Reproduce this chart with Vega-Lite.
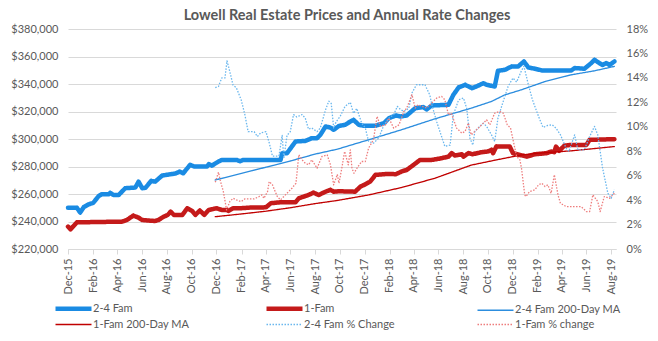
{
"$schema":"https://vega.github.io/schema/vega-lite/v6.json",
"width":548,"height":220,
"autosize":{"type":"none"},
"padding":{"left":68,"top":29,"right":42,"bottom":92},
"background":"white",
"title":{"text":"Lowell Real Estate Prices and Annual Rate Changes","font":"Lato","fontSize":14.5,"fontWeight":"bold","color":"#595959","anchor":"middle","frame":"group","offset":0,"dx":5},
"config":{"view":{"stroke":null},"font":"Lato",
 "axis":{"labelFont":"Lato","labelFontSize":11,"labelColor":"#595959","gridColor":"#d9d9d9","gridWidth":1,"domain":false,"ticks":false,"tickSize":0,"title":null},
 "legend":{"labelFont":"Lato","labelFontSize":11,"labelColor":"#595959"}},
"datasets":{
"price":[
{"d":"2015-12-01","s":"2-4 Fam","v":250000},{"d":"2015-12-23","s":"2-4 Fam","v":250000},{"d":"2015-12-31","s":"2-4 Fam","v":246500},{"d":"2016-01-09","s":"2-4 Fam","v":250500},{"d":"2016-01-21","s":"2-4 Fam","v":252500},{"d":"2016-02-01","s":"2-4 Fam","v":253500},{"d":"2016-02-15","s":"2-4 Fam","v":258600},{"d":"2016-02-22","s":"2-4 Fam","v":259800},{"d":"2016-03-10","s":"2-4 Fam","v":259800},{"d":"2016-03-14","s":"2-4 Fam","v":260800},{"d":"2016-03-22","s":"2-4 Fam","v":259300},{"d":"2016-04-04","s":"2-4 Fam","v":259300},{"d":"2016-04-20","s":"2-4 Fam","v":264200},{"d":"2016-05-15","s":"2-4 Fam","v":264700},{"d":"2016-05-23","s":"2-4 Fam","v":269000},{"d":"2016-06-01","s":"2-4 Fam","v":264200},{"d":"2016-06-09","s":"2-4 Fam","v":264500},{"d":"2016-06-23","s":"2-4 Fam","v":269500},{"d":"2016-07-03","s":"2-4 Fam","v":269000},{"d":"2016-07-20","s":"2-4 Fam","v":273400},{"d":"2016-08-10","s":"2-4 Fam","v":274400},{"d":"2016-08-22","s":"2-4 Fam","v":274900},{"d":"2016-09-01","s":"2-4 Fam","v":276300},{"d":"2016-09-10","s":"2-4 Fam","v":275100},{"d":"2016-09-27","s":"2-4 Fam","v":281200},{"d":"2016-10-07","s":"2-4 Fam","v":280000},{"d":"2016-11-08","s":"2-4 Fam","v":280000},{"d":"2016-11-12","s":"2-4 Fam","v":281700},{"d":"2016-11-20","s":"2-4 Fam","v":280700},{"d":"2016-12-06","s":"2-4 Fam","v":283600},{"d":"2016-12-14","s":"2-4 Fam","v":284800},{"d":"2017-01-20","s":"2-4 Fam","v":284800},{"d":"2017-01-28","s":"2-4 Fam","v":283800},{"d":"2017-02-05","s":"2-4 Fam","v":284800},{"d":"2017-05-08","s":"2-4 Fam","v":284800},{"d":"2017-05-12","s":"2-4 Fam","v":289700},{"d":"2017-05-24","s":"2-4 Fam","v":289700},{"d":"2017-06-14","s":"2-4 Fam","v":298200},{"d":"2017-07-08","s":"2-4 Fam","v":298600},{"d":"2017-07-24","s":"2-4 Fam","v":300600},{"d":"2017-08-06","s":"2-4 Fam","v":300600},{"d":"2017-08-14","s":"2-4 Fam","v":303000},{"d":"2017-08-27","s":"2-4 Fam","v":309100},{"d":"2017-09-08","s":"2-4 Fam","v":308300},{"d":"2017-09-16","s":"2-4 Fam","v":306700},{"d":"2017-09-29","s":"2-4 Fam","v":309500},{"d":"2017-10-14","s":"2-4 Fam","v":310300},{"d":"2017-10-27","s":"2-4 Fam","v":312700},{"d":"2017-11-04","s":"2-4 Fam","v":313900},{"d":"2017-11-17","s":"2-4 Fam","v":310300},{"d":"2017-11-30","s":"2-4 Fam","v":309600},{"d":"2017-12-28","s":"2-4 Fam","v":309600},{"d":"2018-01-18","s":"2-4 Fam","v":311500},{"d":"2018-01-30","s":"2-4 Fam","v":315100},{"d":"2018-02-16","s":"2-4 Fam","v":317100},{"d":"2018-02-28","s":"2-4 Fam","v":316400},{"d":"2018-03-15","s":"2-4 Fam","v":317100},{"d":"2018-04-05","s":"2-4 Fam","v":322400},{"d":"2018-04-25","s":"2-4 Fam","v":323200},{"d":"2018-05-03","s":"2-4 Fam","v":321500},{"d":"2018-05-16","s":"2-4 Fam","v":324400},{"d":"2018-06-26","s":"2-4 Fam","v":324900},{"d":"2018-07-08","s":"2-4 Fam","v":332100},{"d":"2018-07-21","s":"2-4 Fam","v":337500},{"d":"2018-08-06","s":"2-4 Fam","v":339400},{"d":"2018-08-23","s":"2-4 Fam","v":337000},{"d":"2018-09-03","s":"2-4 Fam","v":338200},{"d":"2018-09-20","s":"2-4 Fam","v":340600},{"d":"2018-09-28","s":"2-4 Fam","v":339400},{"d":"2018-10-18","s":"2-4 Fam","v":338200},{"d":"2018-10-26","s":"2-4 Fam","v":349600},{"d":"2018-11-12","s":"2-4 Fam","v":350300},{"d":"2018-11-29","s":"2-4 Fam","v":352800},{"d":"2018-12-15","s":"2-4 Fam","v":352800},{"d":"2018-12-29","s":"2-4 Fam","v":356400},{"d":"2019-01-09","s":"2-4 Fam","v":352000},{"d":"2019-01-25","s":"2-4 Fam","v":351100},{"d":"2019-02-11","s":"2-4 Fam","v":349900},{"d":"2019-04-25","s":"2-4 Fam","v":349900},{"d":"2019-05-03","s":"2-4 Fam","v":351600},{"d":"2019-05-27","s":"2-4 Fam","v":351100},{"d":"2019-06-13","s":"2-4 Fam","v":355200},{"d":"2019-06-21","s":"2-4 Fam","v":357600},{"d":"2019-07-03","s":"2-4 Fam","v":355200},{"d":"2019-07-11","s":"2-4 Fam","v":353800},{"d":"2019-07-20","s":"2-4 Fam","v":355200},{"d":"2019-07-28","s":"2-4 Fam","v":353800},{"d":"2019-08-09","s":"2-4 Fam","v":356400},
{"d":"2015-12-01","s":"1-Fam","v":236300},{"d":"2015-12-07","s":"1-Fam","v":234300},{"d":"2015-12-23","s":"1-Fam","v":239400},{"d":"2016-04-12","s":"1-Fam","v":239900},{"d":"2016-04-24","s":"1-Fam","v":241100},{"d":"2016-05-10","s":"1-Fam","v":244300},{"d":"2016-05-23","s":"1-Fam","v":242800},{"d":"2016-06-01","s":"1-Fam","v":241100},{"d":"2016-06-21","s":"1-Fam","v":240600},{"d":"2016-07-03","s":"1-Fam","v":240400},{"d":"2016-07-11","s":"1-Fam","v":241100},{"d":"2016-07-24","s":"1-Fam","v":243500},{"d":"2016-08-03","s":"1-Fam","v":244800},{"d":"2016-08-10","s":"1-Fam","v":247200},{"d":"2016-08-18","s":"1-Fam","v":244800},{"d":"2016-09-08","s":"1-Fam","v":244800},{"d":"2016-09-20","s":"1-Fam","v":249600},{"d":"2016-10-02","s":"1-Fam","v":247700},{"d":"2016-10-10","s":"1-Fam","v":244800},{"d":"2016-10-21","s":"1-Fam","v":248000},{"d":"2016-11-01","s":"1-Fam","v":244800},{"d":"2016-11-12","s":"1-Fam","v":248400},{"d":"2016-12-01","s":"1-Fam","v":249600},{"d":"2016-12-14","s":"1-Fam","v":248400},{"d":"2016-12-26","s":"1-Fam","v":248400},{"d":"2016-12-30","s":"1-Fam","v":247700},{"d":"2017-01-11","s":"1-Fam","v":249600},{"d":"2017-01-28","s":"1-Fam","v":249600},{"d":"2017-02-21","s":"1-Fam","v":250100},{"d":"2017-04-02","s":"1-Fam","v":250300},{"d":"2017-04-14","s":"1-Fam","v":253300},{"d":"2017-05-08","s":"1-Fam","v":254000},{"d":"2017-06-14","s":"1-Fam","v":254000},{"d":"2017-06-22","s":"1-Fam","v":256900},{"d":"2017-07-16","s":"1-Fam","v":259300},{"d":"2017-07-28","s":"1-Fam","v":261000},{"d":"2017-08-10","s":"1-Fam","v":259300},{"d":"2017-08-27","s":"1-Fam","v":261700},{"d":"2017-09-08","s":"1-Fam","v":263000},{"d":"2017-09-16","s":"1-Fam","v":261700},{"d":"2017-09-29","s":"1-Fam","v":262000},{"d":"2017-11-08","s":"1-Fam","v":261700},{"d":"2017-11-21","s":"1-Fam","v":265400},{"d":"2017-11-30","s":"1-Fam","v":266600},{"d":"2017-12-15","s":"1-Fam","v":269000},{"d":"2017-12-28","s":"1-Fam","v":273900},{"d":"2018-01-26","s":"1-Fam","v":274600},{"d":"2018-02-16","s":"1-Fam","v":274400},{"d":"2018-03-02","s":"1-Fam","v":276300},{"d":"2018-03-15","s":"1-Fam","v":277500},{"d":"2018-04-01","s":"1-Fam","v":281200},{"d":"2018-04-17","s":"1-Fam","v":284800},{"d":"2018-05-16","s":"1-Fam","v":284800},{"d":"2018-06-09","s":"1-Fam","v":286000},{"d":"2018-06-26","s":"1-Fam","v":287200},{"d":"2018-07-04","s":"1-Fam","v":289700},{"d":"2018-07-12","s":"1-Fam","v":288000},{"d":"2018-07-29","s":"1-Fam","v":288900},{"d":"2018-08-02","s":"1-Fam","v":287200},{"d":"2018-08-14","s":"1-Fam","v":289700},{"d":"2018-08-24","s":"1-Fam","v":288900},{"d":"2018-09-16","s":"1-Fam","v":290400},{"d":"2018-10-01","s":"1-Fam","v":290900},{"d":"2018-10-10","s":"1-Fam","v":292100},{"d":"2018-10-14","s":"1-Fam","v":289700},{"d":"2018-10-22","s":"1-Fam","v":294500},{"d":"2018-11-24","s":"1-Fam","v":294500},{"d":"2018-12-02","s":"1-Fam","v":289700},{"d":"2018-12-19","s":"1-Fam","v":288400},{"d":"2019-01-05","s":"1-Fam","v":287200},{"d":"2019-01-25","s":"1-Fam","v":288900},{"d":"2019-02-23","s":"1-Fam","v":289700},{"d":"2019-03-06","s":"1-Fam","v":290900},{"d":"2019-03-14","s":"1-Fam","v":290400},{"d":"2019-03-18","s":"1-Fam","v":294500},{"d":"2019-03-26","s":"1-Fam","v":291400},{"d":"2019-04-08","s":"1-Fam","v":295200},{"d":"2019-04-25","s":"1-Fam","v":295700},{"d":"2019-06-01","s":"1-Fam","v":295700},{"d":"2019-06-09","s":"1-Fam","v":299400},{"d":"2019-08-09","s":"1-Fam","v":299900},
{"d":"2016-11-28","s":"2-4 Fam 200-Day MA","v":270200},{"d":"2017-02-01","s":"2-4 Fam 200-Day MA","v":275000},{"d":"2017-04-02","s":"2-4 Fam 200-Day MA","v":279500},{"d":"2017-06-01","s":"2-4 Fam 200-Day MA","v":284000},{"d":"2017-08-01","s":"2-4 Fam 200-Day MA","v":289000},{"d":"2017-09-25","s":"2-4 Fam 200-Day MA","v":292600},{"d":"2017-12-11","s":"2-4 Fam 200-Day MA","v":299400},{"d":"2018-03-02","s":"2-4 Fam 200-Day MA","v":306700},{"d":"2018-05-24","s":"2-4 Fam 200-Day MA","v":314700},{"d":"2018-08-21","s":"2-4 Fam 200-Day MA","v":322400},{"d":"2018-10-10","s":"2-4 Fam 200-Day MA","v":327300},{"d":"2018-11-12","s":"2-4 Fam 200-Day MA","v":332100},{"d":"2018-12-23","s":"2-4 Fam 200-Day MA","v":335800},{"d":"2019-02-19","s":"2-4 Fam 200-Day MA","v":341800},{"d":"2019-04-25","s":"2-4 Fam 200-Day MA","v":346700},{"d":"2019-06-21","s":"2-4 Fam 200-Day MA","v":349600},{"d":"2019-08-09","s":"2-4 Fam 200-Day MA","v":352800},
{"d":"2016-11-28","s":"1-Fam 200-Day MA","v":243500},{"d":"2017-02-01","s":"1-Fam 200-Day MA","v":245500},{"d":"2017-04-02","s":"1-Fam 200-Day MA","v":247500},{"d":"2017-06-01","s":"1-Fam 200-Day MA","v":250000},{"d":"2017-08-01","s":"1-Fam 200-Day MA","v":253000},{"d":"2017-09-25","s":"1-Fam 200-Day MA","v":255300},{"d":"2017-12-11","s":"1-Fam 200-Day MA","v":259300},{"d":"2018-03-02","s":"1-Fam 200-Day MA","v":264700},{"d":"2018-05-24","s":"1-Fam 200-Day MA","v":271500},{"d":"2018-08-21","s":"1-Fam 200-Day MA","v":281000},{"d":"2018-10-22","s":"1-Fam 200-Day MA","v":284800},{"d":"2018-12-23","s":"1-Fam 200-Day MA","v":288400},{"d":"2019-02-03","s":"1-Fam 200-Day MA","v":289700},{"d":"2019-04-25","s":"1-Fam 200-Day MA","v":291400},{"d":"2019-08-09","s":"1-Fam 200-Day MA","v":294500}
],
"pct":[
{"d":"2016-11-28","s":"2-4 Fam % Change","v":13.2},{"d":"2016-12-06","s":"2-4 Fam % Change","v":13.3},{"d":"2016-12-14","s":"2-4 Fam % Change","v":14.0},{"d":"2016-12-22","s":"2-4 Fam % Change","v":14.0},{"d":"2016-12-27","s":"2-4 Fam % Change","v":15.4},{"d":"2017-01-03","s":"2-4 Fam % Change","v":14.5},{"d":"2017-01-11","s":"2-4 Fam % Change","v":13.4},{"d":"2017-01-19","s":"2-4 Fam % Change","v":13.2},{"d":"2017-01-31","s":"2-4 Fam % Change","v":12.2},{"d":"2017-02-09","s":"2-4 Fam % Change","v":11.0},{"d":"2017-02-17","s":"2-4 Fam % Change","v":9.6},{"d":"2017-03-04","s":"2-4 Fam % Change","v":9.6},{"d":"2017-03-12","s":"2-4 Fam % Change","v":9.2},{"d":"2017-03-20","s":"2-4 Fam % Change","v":9.5},{"d":"2017-04-02","s":"2-4 Fam % Change","v":9.6},{"d":"2017-04-10","s":"2-4 Fam % Change","v":8.7},{"d":"2017-04-18","s":"2-4 Fam % Change","v":7.6},{"d":"2017-05-04","s":"2-4 Fam % Change","v":7.6},{"d":"2017-05-12","s":"2-4 Fam % Change","v":9.3},{"d":"2017-05-16","s":"2-4 Fam % Change","v":7.4},{"d":"2017-05-24","s":"2-4 Fam % Change","v":9.3},{"d":"2017-06-01","s":"2-4 Fam % Change","v":9.6},{"d":"2017-06-09","s":"2-4 Fam % Change","v":11.0},{"d":"2017-06-17","s":"2-4 Fam % Change","v":10.8},{"d":"2017-06-30","s":"2-4 Fam % Change","v":11.0},{"d":"2017-07-08","s":"2-4 Fam % Change","v":10.7},{"d":"2017-07-16","s":"2-4 Fam % Change","v":9.8},{"d":"2017-07-24","s":"2-4 Fam % Change","v":9.9},{"d":"2017-08-06","s":"2-4 Fam % Change","v":9.6},{"d":"2017-08-14","s":"2-4 Fam % Change","v":9.9},{"d":"2017-08-27","s":"2-4 Fam % Change","v":11.4},{"d":"2017-09-04","s":"2-4 Fam % Change","v":12.1},{"d":"2017-09-10","s":"2-4 Fam % Change","v":11.9},{"d":"2017-09-16","s":"2-4 Fam % Change","v":9.9},{"d":"2017-09-22","s":"2-4 Fam % Change","v":10.4},{"d":"2017-10-02","s":"2-4 Fam % Change","v":10.85},{"d":"2017-10-14","s":"2-4 Fam % Change","v":11.67},{"d":"2017-10-27","s":"2-4 Fam % Change","v":12.0},{"d":"2017-11-04","s":"2-4 Fam % Change","v":11.1},{"d":"2017-11-12","s":"2-4 Fam % Change","v":11.5},{"d":"2017-11-24","s":"2-4 Fam % Change","v":10.3},{"d":"2017-12-03","s":"2-4 Fam % Change","v":9.9},{"d":"2017-12-11","s":"2-4 Fam % Change","v":8.8},{"d":"2017-12-23","s":"2-4 Fam % Change","v":8.66},{"d":"2018-01-05","s":"2-4 Fam % Change","v":9.07},{"d":"2018-01-18","s":"2-4 Fam % Change","v":10.16},{"d":"2018-01-30","s":"2-4 Fam % Change","v":10.7},{"d":"2018-02-11","s":"2-4 Fam % Change","v":11.0},{"d":"2018-02-20","s":"2-4 Fam % Change","v":11.67},{"d":"2018-02-28","s":"2-4 Fam % Change","v":11.4},{"d":"2018-03-08","s":"2-4 Fam % Change","v":11.26},{"d":"2018-03-20","s":"2-4 Fam % Change","v":11.5},{"d":"2018-03-28","s":"2-4 Fam % Change","v":12.76},{"d":"2018-04-08","s":"2-4 Fam % Change","v":13.44},{"d":"2018-04-29","s":"2-4 Fam % Change","v":13.44},{"d":"2018-05-11","s":"2-4 Fam % Change","v":12.6},{"d":"2018-05-16","s":"2-4 Fam % Change","v":11.8},{"d":"2018-05-28","s":"2-4 Fam % Change","v":10.4},{"d":"2018-06-09","s":"2-4 Fam % Change","v":9.2},{"d":"2018-06-17","s":"2-4 Fam % Change","v":8.4},{"d":"2018-06-30","s":"2-4 Fam % Change","v":8.5},{"d":"2018-07-08","s":"2-4 Fam % Change","v":10.98},{"d":"2018-07-21","s":"2-4 Fam % Change","v":12.2},{"d":"2018-08-02","s":"2-4 Fam % Change","v":12.35},{"d":"2018-08-10","s":"2-4 Fam % Change","v":11.5},{"d":"2018-08-18","s":"2-4 Fam % Change","v":9.07},{"d":"2018-08-25","s":"2-4 Fam % Change","v":8.5},{"d":"2018-08-30","s":"2-4 Fam % Change","v":9.62},{"d":"2018-09-07","s":"2-4 Fam % Change","v":9.89},{"d":"2018-09-20","s":"2-4 Fam % Change","v":10.3},{"d":"2018-09-28","s":"2-4 Fam % Change","v":10.03},{"d":"2018-10-10","s":"2-4 Fam % Change","v":9.34},{"d":"2018-10-18","s":"2-4 Fam % Change","v":8.8},{"d":"2018-10-26","s":"2-4 Fam % Change","v":10.71},{"d":"2018-11-08","s":"2-4 Fam % Change","v":12.08},{"d":"2018-11-20","s":"2-4 Fam % Change","v":13.3},{"d":"2018-12-02","s":"2-4 Fam % Change","v":13.99},{"d":"2018-12-11","s":"2-4 Fam % Change","v":13.66},{"d":"2018-12-23","s":"2-4 Fam % Change","v":14.59},{"d":"2018-12-29","s":"2-4 Fam % Change","v":14.95},{"d":"2019-01-09","s":"2-4 Fam % Change","v":13.44},{"d":"2019-01-19","s":"2-4 Fam % Change","v":12.21},{"d":"2019-02-03","s":"2-4 Fam % Change","v":10.85},{"d":"2019-02-14","s":"2-4 Fam % Change","v":9.95},{"d":"2019-02-26","s":"2-4 Fam % Change","v":10.11},{"d":"2019-03-09","s":"2-4 Fam % Change","v":10.16},{"d":"2019-03-18","s":"2-4 Fam % Change","v":9.89},{"d":"2019-03-29","s":"2-4 Fam % Change","v":9.34},{"d":"2019-04-12","s":"2-4 Fam % Change","v":8.25},{"d":"2019-04-19","s":"2-4 Fam % Change","v":7.98},{"d":"2019-05-03","s":"2-4 Fam % Change","v":9.34},{"d":"2019-05-11","s":"2-4 Fam % Change","v":8.11},{"d":"2019-05-27","s":"2-4 Fam % Change","v":8.11},{"d":"2019-06-09","s":"2-4 Fam % Change","v":9.2},{"d":"2019-06-21","s":"2-4 Fam % Change","v":10.03},{"d":"2019-06-29","s":"2-4 Fam % Change","v":9.34},{"d":"2019-07-11","s":"2-4 Fam % Change","v":6.61},{"d":"2019-07-24","s":"2-4 Fam % Change","v":4.56},{"d":"2019-08-01","s":"2-4 Fam % Change","v":4.15},{"d":"2019-08-09","s":"2-4 Fam % Change","v":4.84},
{"d":"2016-11-28","s":"1-Fam % change","v":5.46},{"d":"2016-12-06","s":"1-Fam % change","v":6.28},{"d":"2016-12-11","s":"1-Fam % change","v":5.52},{"d":"2016-12-18","s":"1-Fam % change","v":4.7},{"d":"2016-12-26","s":"1-Fam % change","v":3.2},{"d":"2017-01-03","s":"1-Fam % change","v":3.88},{"d":"2017-01-11","s":"1-Fam % change","v":4.15},{"d":"2017-01-19","s":"1-Fam % change","v":4.02},{"d":"2017-01-31","s":"1-Fam % change","v":3.88},{"d":"2017-02-09","s":"1-Fam % change","v":4.1},{"d":"2017-03-04","s":"1-Fam % change","v":4.1},{"d":"2017-03-16","s":"1-Fam % change","v":4.29},{"d":"2017-03-23","s":"1-Fam % change","v":4.43},{"d":"2017-03-28","s":"1-Fam % change","v":4.15},{"d":"2017-04-06","s":"1-Fam % change","v":4.7},{"d":"2017-04-10","s":"1-Fam % change","v":5.52},{"d":"2017-04-18","s":"1-Fam % change","v":5.25},{"d":"2017-04-30","s":"1-Fam % change","v":4.29},{"d":"2017-05-08","s":"1-Fam % change","v":4.02},{"d":"2017-05-20","s":"1-Fam % change","v":4.43},{"d":"2017-06-05","s":"1-Fam % change","v":4.97},{"d":"2017-06-15","s":"1-Fam % change","v":5.38},{"d":"2017-06-22","s":"1-Fam % change","v":7.7},{"d":"2017-06-30","s":"1-Fam % change","v":7.3},{"d":"2017-07-08","s":"1-Fam % change","v":7.02},{"d":"2017-07-16","s":"1-Fam % change","v":6.89},{"d":"2017-07-24","s":"1-Fam % change","v":7.3},{"d":"2017-08-06","s":"1-Fam % change","v":6.61},{"d":"2017-08-18","s":"1-Fam % change","v":7.57},{"d":"2017-08-31","s":"1-Fam % change","v":7.7},{"d":"2017-09-08","s":"1-Fam % change","v":6.89},{"d":"2017-09-16","s":"1-Fam % change","v":5.25},{"d":"2017-09-25","s":"1-Fam % change","v":6.1},{"d":"2017-09-29","s":"1-Fam % change","v":5.38},{"d":"2017-10-06","s":"1-Fam % change","v":6.61},{"d":"2017-10-13","s":"1-Fam % change","v":7.98},{"d":"2017-10-22","s":"1-Fam % change","v":6.89},{"d":"2017-10-27","s":"1-Fam % change","v":8.11},{"d":"2017-10-31","s":"1-Fam % change","v":6.61},{"d":"2017-11-05","s":"1-Fam % change","v":6.2},{"d":"2017-11-15","s":"1-Fam % change","v":6.75},{"d":"2017-11-24","s":"1-Fam % change","v":7.16},{"d":"2017-12-03","s":"1-Fam % change","v":7.16},{"d":"2017-12-11","s":"1-Fam % change","v":8.25},{"d":"2017-12-23","s":"1-Fam % change","v":8.93},{"d":"2018-01-01","s":"1-Fam % change","v":10.85},{"d":"2018-01-09","s":"1-Fam % change","v":10.03},{"d":"2018-01-22","s":"1-Fam % change","v":10.16},{"d":"2018-01-30","s":"1-Fam % change","v":10.71},{"d":"2018-02-11","s":"1-Fam % change","v":9.89},{"d":"2018-02-24","s":"1-Fam % change","v":10.16},{"d":"2018-03-08","s":"1-Fam % change","v":11.26},{"d":"2018-03-15","s":"1-Fam % change","v":11.53},{"d":"2018-03-28","s":"1-Fam % change","v":12.62},{"d":"2018-04-05","s":"1-Fam % change","v":11.53},{"d":"2018-04-12","s":"1-Fam % change","v":11.8},{"d":"2018-05-03","s":"1-Fam % change","v":11.53},{"d":"2018-05-11","s":"1-Fam % change","v":11.8},{"d":"2018-05-28","s":"1-Fam % change","v":12.35},{"d":"2018-06-09","s":"1-Fam % change","v":12.49},{"d":"2018-06-17","s":"1-Fam % change","v":12.21},{"d":"2018-06-26","s":"1-Fam % change","v":10.98},{"d":"2018-07-03","s":"1-Fam % change","v":11.12},{"d":"2018-07-16","s":"1-Fam % change","v":9.89},{"d":"2018-07-29","s":"1-Fam % change","v":9.48},{"d":"2018-08-06","s":"1-Fam % change","v":9.62},{"d":"2018-08-14","s":"1-Fam % change","v":10.3},{"d":"2018-08-21","s":"1-Fam % change","v":9.34},{"d":"2018-09-03","s":"1-Fam % change","v":9.75},{"d":"2018-09-20","s":"1-Fam % change","v":10.3},{"d":"2018-09-28","s":"1-Fam % change","v":10.57},{"d":"2018-10-06","s":"1-Fam % change","v":10.16},{"d":"2018-10-18","s":"1-Fam % change","v":11.12},{"d":"2018-10-30","s":"1-Fam % change","v":11.26},{"d":"2018-11-08","s":"1-Fam % change","v":11.12},{"d":"2018-11-18","s":"1-Fam % change","v":10.16},{"d":"2018-11-26","s":"1-Fam % change","v":9.89},{"d":"2018-12-11","s":"1-Fam % change","v":7.57},{"d":"2018-12-19","s":"1-Fam % change","v":7.3},{"d":"2018-12-23","s":"1-Fam % change","v":6.61},{"d":"2018-12-31","s":"1-Fam % change","v":4.43},{"d":"2019-01-03","s":"1-Fam % change","v":4.29},{"d":"2019-01-12","s":"1-Fam % change","v":4.7},{"d":"2019-01-25","s":"1-Fam % change","v":4.84},{"d":"2019-02-03","s":"1-Fam % change","v":5.25},{"d":"2019-02-11","s":"1-Fam % change","v":5.38},{"d":"2019-02-19","s":"1-Fam % change","v":5.11},{"d":"2019-02-26","s":"1-Fam % change","v":5.25},{"d":"2019-03-06","s":"1-Fam % change","v":4.56},{"d":"2019-03-14","s":"1-Fam % change","v":6.07},{"d":"2019-03-23","s":"1-Fam % change","v":4.43},{"d":"2019-03-29","s":"1-Fam % change","v":3.74},{"d":"2019-04-12","s":"1-Fam % change","v":3.47},{"d":"2019-05-19","s":"1-Fam % change","v":3.47},{"d":"2019-06-01","s":"1-Fam % change","v":3.06},{"d":"2019-06-09","s":"1-Fam % change","v":3.06},{"d":"2019-06-17","s":"1-Fam % change","v":4.43},{"d":"2019-06-29","s":"1-Fam % change","v":3.88},{"d":"2019-07-05","s":"1-Fam % change","v":3.06},{"d":"2019-07-15","s":"1-Fam % change","v":4.29},{"d":"2019-07-28","s":"1-Fam % change","v":4.15},{"d":"2019-08-09","s":"1-Fam % change","v":4.56}
]},
"encoding":{
 "x":{"field":"d","type":"temporal",
  "scale":{"type":"utc","domain":[{"year":2015,"month":12,"date":1,"utc":true},{"year":2019,"month":8,"date":13,"utc":true}]},
  "axis":{"labelExpr":"utcFormat(datum.value, '%b-%y')","labelAngle":-90,"grid":false,"domain":true,"domainColor":"#d9d9d9","ticks":true,"tickSize":5,"tickColor":"#d9d9d9","labelPadding":4,
   "values":[{"year":2015,"month":12,"date":1,"utc":true},{"year":2016,"month":2,"date":1,"utc":true},{"year":2016,"month":4,"date":1,"utc":true},{"year":2016,"month":6,"date":1,"utc":true},{"year":2016,"month":8,"date":1,"utc":true},{"year":2016,"month":10,"date":1,"utc":true},{"year":2016,"month":12,"date":1,"utc":true},{"year":2017,"month":2,"date":1,"utc":true},{"year":2017,"month":4,"date":1,"utc":true},{"year":2017,"month":6,"date":1,"utc":true},{"year":2017,"month":8,"date":1,"utc":true},{"year":2017,"month":10,"date":1,"utc":true},{"year":2017,"month":12,"date":1,"utc":true},{"year":2018,"month":2,"date":1,"utc":true},{"year":2018,"month":4,"date":1,"utc":true},{"year":2018,"month":6,"date":1,"utc":true},{"year":2018,"month":8,"date":1,"utc":true},{"year":2018,"month":10,"date":1,"utc":true},{"year":2018,"month":12,"date":1,"utc":true},{"year":2019,"month":2,"date":1,"utc":true},{"year":2019,"month":4,"date":1,"utc":true},{"year":2019,"month":6,"date":1,"utc":true},{"year":2019,"month":8,"date":1,"utc":true}]}},
 "color":{"field":"s","type":"nominal",
  "scale":{"domain":["2-4 Fam","1-Fam","2-4 Fam 200-Day MA","1-Fam 200-Day MA","2-4 Fam % Change","1-Fam % change"],"range":["#1A8BE3","#C41A1A","#2C8DDE","#C00000","#6AB7EE","#EE7D7D"]},
  "legend":{"title":null,"orient":"none","legendX":-1,"legendY":273,"columns":3,"direction":"horizontal","gridAlign":"all","columnPadding":58,"rowPadding":0,"symbolType":"M-4.5,0H4.5","symbolSize":64,"labelOffset":13}},
 "strokeWidth":{"field":"s","type":"nominal",
  "scale":{"type":"ordinal","domain":["2-4 Fam","1-Fam","2-4 Fam 200-Day MA","1-Fam 200-Day MA","2-4 Fam % Change","1-Fam % change"],"range":[4.5,4.5,1.3,1.3,1.3,1.3]},
  "legend":{"title":null,"orient":"none","legendX":-1,"legendY":273,"columns":3,"direction":"horizontal","gridAlign":"all","columnPadding":58,"rowPadding":0,"symbolType":"M-4.5,0H4.5","symbolSize":64,"labelOffset":13}},
 "strokeDash":{"field":"s","type":"nominal",
  "scale":{"type":"ordinal","domain":["2-4 Fam","1-Fam","2-4 Fam 200-Day MA","1-Fam 200-Day MA","2-4 Fam % Change","1-Fam % change"],"range":[[1,0],[1,0],[1,0],[1,0],[1.5,1.5],[1.5,1.5]]},
  "legend":{"title":null,"orient":"none","legendX":-1,"legendY":273,"columns":3,"direction":"horizontal","gridAlign":"all","columnPadding":58,"rowPadding":0,"symbolType":"M-4.5,0H4.5","symbolSize":64,"labelOffset":13}}
},
"layer":[
 {"data":{"name":"price"},"mark":{"type":"line","strokeCap":"round","strokeJoin":"round"},
  "encoding":{"y":{"field":"v","type":"quantitative","scale":{"domain":[220000,380000],"nice":false,"zero":false},
   "axis":{"orient":"left","values":[220000,240000,260000,280000,300000,320000,340000,360000,380000],"format":"$,.0f","grid":true,"labelPadding":10}}}},
 {"data":{"name":"pct"},"mark":{"type":"line","strokeJoin":"round"},
  "encoding":{"y":{"field":"v","type":"quantitative","scale":{"domain":[0,18],"nice":false},
   "axis":{"orient":"right","values":[0,2,4,6,8,10,12,14,16,18],"labelExpr":"datum.value + '%'","grid":false,"labelPadding":10}}}}
],
"resolve":{"scale":{"y":"independent"}}
}
